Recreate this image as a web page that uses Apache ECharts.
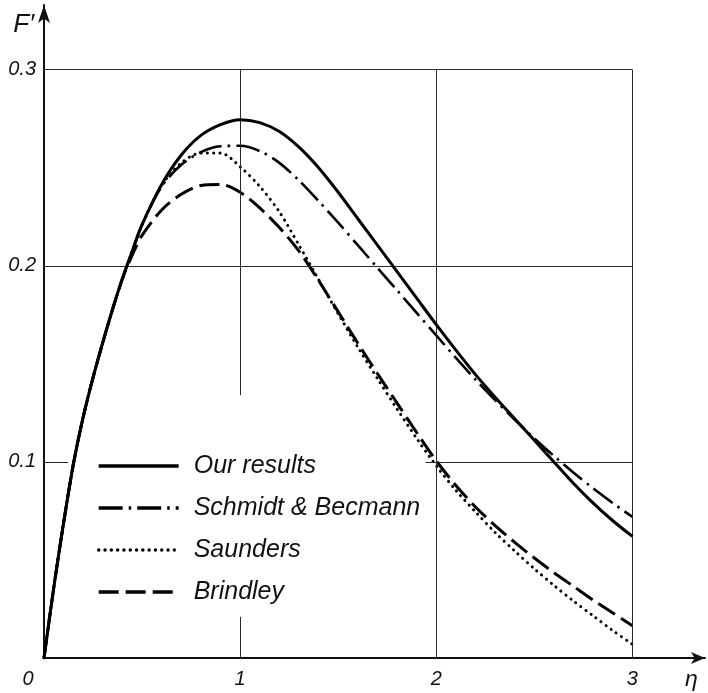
<!DOCTYPE html>
<html>
<head>
<meta charset="utf-8">
<script src="https://cdn.jsdelivr.net/npm/echarts@6/dist/echarts.min.js"></script>
<style>
  html, body { margin: 0; padding: 0; background: #fff; }
  #chart { width: 708px; height: 693px; }
</style>
</head>
<body>
<div id="chart"></div>
<script>
// ---- data ----
const eta = [0, 0.05, 0.1, 0.15, 0.2, 0.25, 0.3, 0.35, 0.4, 0.45, 0.5,
  0.6, 0.7, 0.8, 0.9, 1.0, 1.1, 1.2, 1.3, 1.4, 1.5,
  1.6, 1.7, 1.8, 1.9, 2.0, 2.1, 2.2, 2.3, 2.4, 2.5,
  2.6, 2.7, 2.8, 2.9, 3.0];

const ourResults = [0, 0.036, 0.069, 0.099, 0.123, 0.143, 0.161, 0.178, 0.1935, 0.2075, 0.221,
  0.2415, 0.2565, 0.2665, 0.272, 0.2745, 0.273, 0.2685, 0.2605, 0.250, 0.2375,
  0.224, 0.2105, 0.197, 0.1835, 0.170, 0.157, 0.1445, 0.133, 0.122, 0.111,
  0.100, 0.089, 0.079, 0.070, 0.062];

const schmidt = [0, 0.036, 0.069, 0.099, 0.123, 0.143, 0.161, 0.178, 0.1935, 0.2075, 0.221,
  0.2405, 0.2515, 0.258, 0.261, 0.2612, 0.2585, 0.2525, 0.2435, 0.233, 0.222,
  0.2105, 0.199, 0.1875, 0.176, 0.1645, 0.153, 0.142, 0.1315, 0.1215, 0.112,
  0.103, 0.0945, 0.0865, 0.079, 0.072];

const saunders = [0, 0.036, 0.069, 0.099, 0.123, 0.143, 0.161, 0.178, 0.1935, 0.2075, 0.221,
  0.241, 0.2525, 0.2575, 0.2575, 0.2505, 0.2405, 0.2275, 0.2105, 0.193, 0.1755,
  0.1585, 0.1425, 0.127, 0.112, 0.098, 0.0855, 0.0745, 0.064, 0.0545, 0.0455,
  0.037, 0.029, 0.0215, 0.014, 0.007];

const brindley = [0, 0.036, 0.069, 0.099, 0.123, 0.143, 0.161, 0.178, 0.1935, 0.2055, 0.2155,
  0.2285, 0.2365, 0.241, 0.2415, 0.2375, 0.2295, 0.2195, 0.2075, 0.1925, 0.1765,
  0.1605, 0.145, 0.130, 0.115, 0.1005, 0.088, 0.077, 0.0675, 0.059, 0.051,
  0.0435, 0.0365, 0.0295, 0.023, 0.0165];

const seriesNames = ['Our results', 'Schmidt & Becmann', 'Saunders', 'Brindley'];
const xTickLabels = ['0', '1', '2', '3'];
const yTickLabels = ['', '0.1', '0.2', '0.3'];
const xAxisName = 'η';
const yAxisName = 'F′';

// grid lines (data coordinates), interrupted where the legend sits
const gridSegments = [
  [[0, 0.3], [3, 0.3]],
  [[0, 0.2], [3, 0.2]],
  [[0, 0.1], [0.123, 0.1]],
  [[1.945, 0.1], [3, 0.1]],
  [[1, 0.3], [1, 0.134]],
  [[1, 0.021], [1, 0]],
  [[2, 0.3], [2, 0]],
  [[3, 0.3], [3, 0]]
];

// ---- chart ----
const FONT = "'Liberation Sans', Arial, sans-serif";
const toPairs = arr => eta.map((x, i) => [x, arr[i]]);

const chart = echarts.init(document.getElementById('chart'), null, { renderer: 'canvas' });

const lineBase = { type: 'line', smooth: 0.3, symbol: 'none', showSymbol: false, silent: true, animation: false };

chart.setOption({
  backgroundColor: '#ffffff',
  animation: false,
  grid: { left: 44, right: 3, top: 5, bottom: 35, containLabel: false },
  legend: {
    orient: 'vertical',
    left: 92,
    top: 447,
    itemWidth: 80,
    itemHeight: 14,
    itemGap: 14,
    selectedMode: false,
    data: seriesNames,
    itemStyle: { opacity: 0 },
    lineStyle: { width: 3.4 },
    textStyle: {
      fontFamily: FONT, fontStyle: 'italic', fontSize: 25, color: '#111',
      lineHeight: 28, padding: [0, 0, 0, 10]
    }
  },
  xAxis: {
    type: 'value', min: 0, max: 3.37, interval: 1,
    name: xAxisName, nameLocation: 'end', nameGap: -20,
    nameTextStyle: { fontFamily: FONT, fontStyle: 'italic', fontSize: 23, color: '#111',
      verticalAlign: 'top', align: 'left', padding: [10, 0, 0, 0] },
    axisLine: { show: true, onZero: false, symbol: ['none', 'arrow'], symbolSize: [9, 14],
      lineStyle: { color: '#111', width: 2 } },
    axisTick: { show: false },
    splitLine: { show: false },
    axisLabel: {
      margin: 11, fontFamily: FONT, fontStyle: 'italic', fontSize: 20, color: '#111',
      formatter: v => {
        const i = Math.round(v);
        if (Math.abs(v - i) > 1e-6 || i < 0 || i >= xTickLabels.length) return '';
        return i === 0 ? '{o|' + xTickLabels[0] + '}' : xTickLabels[i];
      },
      rich: { o: { fontFamily: FONT, fontStyle: 'italic', fontSize: 20, color: '#111', padding: [0, 32, 0, 0] } }
    }
  },
  yAxis: {
    type: 'value', min: 0, max: 0.333, interval: 0.1,
    name: yAxisName, nameLocation: 'end', nameGap: -20,
    nameTextStyle: { fontFamily: FONT, fontStyle: 'italic', fontSize: 26, color: '#111',
      align: 'right', verticalAlign: 'middle', padding: [0, 10, 0, 0] },
    axisLine: { show: true, onZero: false, symbol: ['none', 'arrow'], symbolSize: [9, 18],
      lineStyle: { color: '#111', width: 2 } },
    axisTick: { show: false },
    splitLine: { show: false },
    axisLabel: {
      margin: 8, fontFamily: FONT, fontStyle: 'italic', fontSize: 20, color: '#111',
      formatter: v => {
        const i = Math.round(v * 10);
        if (Math.abs(v * 10 - i) > 1e-6 || i < 0 || i >= yTickLabels.length) return '';
        return yTickLabels[i];
      }
    }
  },
  series: [
    {
      type: 'line', name: '__grid', data: [], silent: true, animation: false,
      markLine: {
        silent: true, symbol: ['none', 'none'], animation: false,
        label: { show: false },
        lineStyle: { color: '#2a2a2a', width: 1, type: 'solid' },
        emphasis: { disabled: true },
        data: gridSegments.map(s => [{ coord: s[0] }, { coord: s[1] }])
      }
    },
    Object.assign({}, lineBase, {
      name: seriesNames[0], data: toPairs(ourResults), z: 5,
      lineStyle: { color: '#000', width: 3, type: 'solid' }, itemStyle: { color: '#000' }
    }),
    Object.assign({}, lineBase, {
      name: seriesNames[1], data: toPairs(schmidt), z: 4,
      lineStyle: { color: '#000', width: 2.6, type: [24, 6, 2.5, 6] }, itemStyle: { color: '#000' }
    }),
    Object.assign({}, lineBase, {
      name: seriesNames[2], data: toPairs(saunders), z: 3,
      lineStyle: { color: '#000', width: 3, type: [0.1, 6.2], cap: 'round' }, itemStyle: { color: '#000' }
    }),
    Object.assign({}, lineBase, {
      name: seriesNames[3], data: toPairs(brindley), z: 3,
      lineStyle: { color: '#000', width: 3, type: [20, 7] }, itemStyle: { color: '#000' }
    })
  ]
});
</script>
</body>
</html>
